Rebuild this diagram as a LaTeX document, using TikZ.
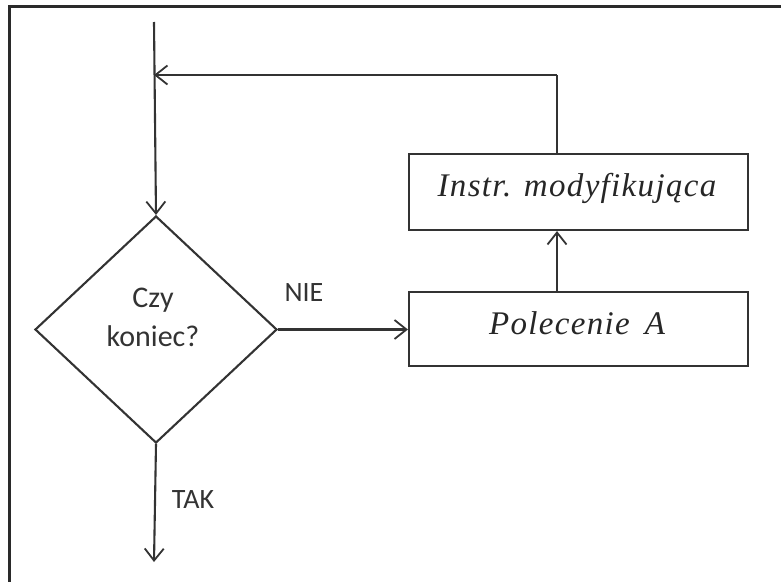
\documentclass[tikz,border=0pt]{standalone}
\usepackage{fontspec}
\setmainfont{Liberation Serif}
\newfontfamily\carl{Carlito}
\newfontfamily\boxfont[LetterSpace=4]{Liberation Serif}
\usetikzlibrary{arrows.meta,shapes.geometric}
\definecolor{ink}{HTML}{333333}
\definecolor{rim}{HTML}{2A2A2A}
\tikzset{
  flow/.style={draw=ink, line width=2.1pt,
    -{Straight Barb[length=12pt,width=19pt,line width=1.8pt]}},
  plain/.style={draw=ink, line width=2.1pt},
  procbox/.style={draw=ink, line width=2.1pt, rectangle, minimum width=339pt,
    minimum height=#1, inner sep=0pt},
  boxtext/.style={font=\boxfont\fontsize{33}{38}\selectfont\itshape, text=black!85},
  labeltext/.style={font=\carl\fontsize{28}{33}\selectfont, text=black!80},
  decisiontext/.style={font=\carl\fontsize{30}{36}\selectfont, text=black!80},
}
\begin{document}
\begin{tikzpicture}[x=1pt,y=-1pt]
\useasboundingbox (0,0) rectangle (781,581);
% frame (only its top and left edges fall inside the page)
\begin{scope}
  \clip (0,0) rectangle (781,581);
  \draw[rim, line width=3pt] (9,6) rectangle (820,620);
\end{scope}

% decision
\node[draw=ink, line width=2.1pt, diamond, aspect=1.066, inner sep=0pt,
      minimum width=242pt, minimum height=227pt] (dec) at (156,329.5) {};
\node[decisiontext, align=center] (dectext) at (153,317) {Czy\\[3pt]koniec?};

% processing boxes
\node[procbox=74pt] (pol) at (578.5,329) {};
\node[boxtext] (poltext) at (577,323) {Polecenie\, A};
\node[procbox=76pt] (ins) at (578.5,192) {};
\node[boxtext] (instext) at (577,188) {Instr. modyfikująca};

% routing coordinates
\coordinate (entry) at (154,22);
\coordinate (col) at (557,0);
\coordinate (loop) at (557,75);
\coordinate (join) at (154,75);
\coordinate (exit) at (154,562);

% connectors
\draw[flow] (entry) -- (dec.north);
\draw[flow] (dec.east) -- (pol.west |- dec.east);
\draw[flow] (pol.north -| col) -- (ins.south -| col);
\draw[plain] (ins.north -| col) -- (loop);
\draw[flow] (loop) -- (join);
\draw[flow] (dec.south) -- (exit);

% branch labels
\node[labeltext] (nie) at (304,293) {NIE};
\node[labeltext] (tak) at (193,500) {TAK};
\end{tikzpicture}
\end{document}
